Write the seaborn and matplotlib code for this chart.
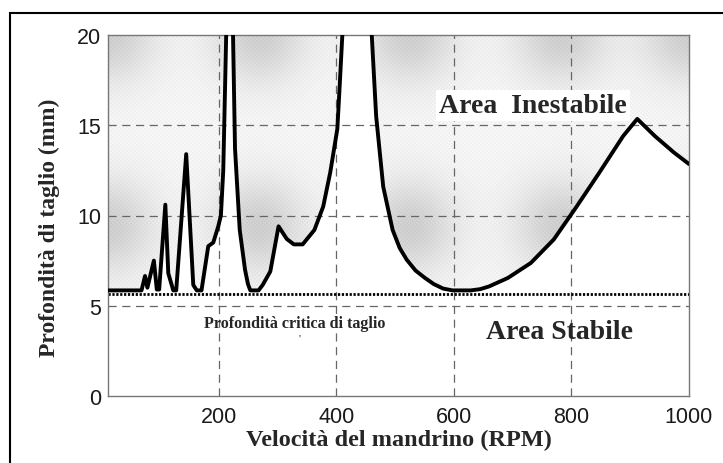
import numpy as np
import matplotlib
matplotlib.use("Agg")
import matplotlib.pyplot as plt
import seaborn as sns
from matplotlib.patches import Rectangle

# lobi di stabilita'
rpm = [12, 69, 75, 79, 90, 95, 99, 109.5, 114.5, 123,
       128, 145, 157, 163, 171, 182.5, 191, 199.5, 204, 208,
       213, 218, 224.6, 228, 236, 245, 250, 254, 268, 275,
       288, 302, 316, 328, 343, 363, 378, 390, 402, 406,
       410.5, 416, 455, 460.5, 468, 480, 496, 508, 520, 535,
       551, 566, 582, 598, 629, 645, 660, 692, 731, 770,
       809, 848, 888, 912, 942, 974, 1000]
depth = [5.85, 5.85, 6.65, 6.0, 7.5, 5.9, 5.9, 10.6, 6.8, 5.85,
         5.85, 13.4, 6.15, 5.85, 5.85, 8.3, 8.5, 9.4, 10.0, 12.5,
         20, 21.5, 20, 13.7, 9.2, 7.0, 6.2, 5.85, 5.85, 6.15,
         6.9, 9.4, 8.7, 8.4, 8.4, 9.2, 10.5, 12.4, 14.8, 17.2,
         20, 24, 24, 20, 15.5, 11.6, 9.2, 8.2, 7.55, 6.95,
         6.54, 6.2, 5.95, 5.85, 5.85, 5.92, 6.07, 6.54, 7.37, 8.67,
         10.5, 12.4, 14.4, 15.35, 14.4, 13.5, 12.85]
critical_depth = 5.65
x_ticks = [200, 400, 600, 800, 1000]
y_ticks = [0, 5, 10, 15, 20]
x_grid = [200, 400, 600, 800]
y_grid = [5, 10, 15]

sns.set_style("white")
plt.rcParams["font.family"] = ["Liberation Sans", "DejaVu Sans"]
serif = ["Liberation Serif", "DejaVu Serif"]

fig = plt.figure(figsize=(7.23, 4.64), dpi=100)
ax = fig.add_axes([108 / 723, 1 - 397 / 464, 581 / 723, 361 / 464])
ax.set_xlim(12, 1000)
ax.set_ylim(0, 20)

# sfondo grigio sfumato dell'area instabile
H, W = 361, 581
yy, xx = np.mgrid[0:1:H * 1j, 0:1:W * 1j]
shade = np.full((H, W), 0.97)
for cx in [0.0, 0.26, 0.52, 0.78, 1.0]:
    for cy in [1.0, 0.47]:
        shade -= 0.15 * np.exp(-((xx - cx) / 0.08) ** 2 - ((yy - cy) / 0.13) ** 2)
iy, ix = np.indices((H, W))
shade -= 0.025 * (((ix // 2) + (iy // 2)) % 2)
im = ax.imshow(shade, cmap="gray", vmin=0, vmax=1, extent=[12, 1000, 0, 20],
               origin="lower", aspect="auto", zorder=0.5, interpolation="bilinear")
fill = ax.fill_between(rpm, np.minimum(depth, 20), 20, facecolor="none", edgecolor="none")
im.set_clip_path(fill.get_paths()[0], transform=ax.transData)

for v in x_grid:
    ax.axvline(v, color="#666666", lw=0.9, ls=(0, (6.5, 4.5)), zorder=1)
for v in y_grid:
    ax.axhline(v, color="#666666", lw=0.9, ls=(0, (6.5, 4.5)), zorder=1)

ax.axhline(critical_depth, color="black", lw=2.0, ls=(0, (0.8, 0.6)), zorder=2)

sns.lineplot(x=rpm, y=depth, ax=ax, color="black", lw=2.8, estimator=None,
             sort=False, zorder=3)

ax.text(735, 16.1, "Area  Inestabile", fontfamily=serif, fontweight="bold",
        fontsize=20, ha="center", va="center", zorder=4,
        bbox=dict(boxstyle="square,pad=0.12", facecolor="white", edgecolor="none"))
ax.text(779, 3.6, "Area Stabile", fontfamily=serif, fontweight="bold",
        fontsize=20, ha="center", va="center", zorder=4)
ax.text(330, 4.04, "Profondità critica di taglio", fontfamily=serif,
        fontweight="bold", fontsize=11.6, ha="center", va="center", zorder=4)
ax.text(338, 3.2, "'", fontfamily=serif, fontsize=8, ha="center", va="center")

ax.set_xticks(x_ticks)
ax.set_yticks(y_ticks)
ax.tick_params(length=0, labelsize=15.5, labelcolor="#1a1a1a")
ax.tick_params(axis="x", pad=7)
ax.tick_params(axis="y", pad=5)
for s in ax.spines.values():
    s.set_color("#777777")
    s.set_linewidth(1.0)

ax.set_xlabel("Velocità del mandrino (RPM)", fontfamily=serif, fontweight="bold",
              fontsize=17.5)
ax.set_ylabel("Profondità di taglio (mm)", fontfamily=serif, fontweight="bold",
              fontsize=17)
ax.xaxis.set_label_coords(0.5, -0.09)
ax.yaxis.set_label_coords(-0.082, 0.47)

fig.patches.append(Rectangle((10 / 723, -0.2), 1.2, 1.2 - 14 / 464,
                             transform=fig.transFigure, fill=False,
                             edgecolor="black", lw=1.5))

fig.savefig("out.png", dpi=100)
